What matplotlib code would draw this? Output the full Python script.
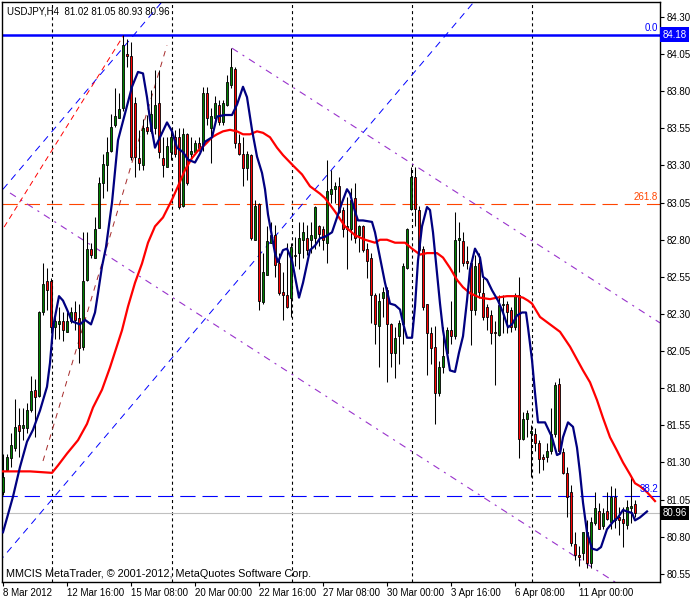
import numpy as np
import matplotlib.pyplot as plt
from matplotlib.transforms import blended_transform_factory

# USDJPY H4 candles
opens = [
    81.10, 81.25, 81.33, 81.40, 81.55, 81.53, 81.53, 81.65, 81.79, 81.75,
    82.31, 82.52, 82.52, 82.21, 82.23, 82.25, 82.18, 82.25, 82.31, 82.27,
    82.08, 82.53, 82.74, 82.68, 82.88, 83.18, 83.30, 83.40, 83.57, 83.62,
    83.69, 84.05, 84.04, 83.72, 83.35, 83.30, 83.56, 83.53, 83.55, 83.72,
    83.35, 83.29, 83.39, 83.49, 83.49, 83.03, 83.51, 83.38, 83.39, 83.45,
    83.44, 83.79, 83.55, 83.62, 83.71, 83.59, 83.71, 83.84, 83.95, 83.45,
    83.38, 83.28, 83.37, 82.80, 83.04, 82.38, 82.56, 82.78, 82.83, 82.64,
    82.45, 82.43, 82.41, 82.69, 82.71, 82.80, 82.81, 82.80, 82.81, 82.89,
    82.87, 82.78, 83.11, 83.14, 83.16, 83.00, 82.87, 82.87, 83.08, 82.83,
    82.89, 82.74, 82.68, 82.43, 82.22, 82.41, 82.46, 82.23, 82.04, 82.15,
    82.23, 82.61, 83.01, 83.22, 83.00, 82.74, 82.37, 82.17, 82.08, 81.77,
    81.94, 82.04, 82.19, 82.15, 82.80, 82.79, 82.66, 82.64, 82.33, 82.64,
    82.44, 82.35, 82.29, 82.18, 82.16, 82.36, 82.37, 82.33, 82.21, 82.43,
    81.46, 81.59, 81.50, 81.49, 81.43, 81.34, 81.34, 81.38, 81.49, 81.83,
    81.37, 81.23, 81.10, 80.75, 80.68, 80.69, 80.83, 80.62, 80.89, 80.97,
    80.87, 80.97, 80.90, 81.07, 80.93, 80.92, 80.88, 80.99, 81.02]
highs = [
    81.36, 81.36, 81.50, 81.73, 81.67, 81.67, 81.70, 81.88, 81.86, 82.32,
    82.64, 82.61, 82.54, 82.31, 82.35, 82.31, 82.31, 82.35, 82.39, 82.37,
    82.85, 82.85, 82.78, 82.95, 83.22, 83.38, 83.49, 83.65, 83.82, 83.79,
    84.18, 84.15, 84.13, 83.76, 83.54, 83.61, 83.64, 83.81, 83.94, 83.94,
    83.49, 83.49, 83.55, 83.54, 83.55, 83.55, 83.52, 83.49, 83.47, 83.49,
    83.83, 83.83, 83.69, 83.77, 83.74, 83.74, 83.91, 84.09, 83.96, 83.51,
    83.49, 83.40, 83.38, 83.07, 83.05, 82.71, 82.89, 82.92, 82.90, 82.71,
    82.58, 82.78, 82.78, 82.82, 82.92, 82.92, 82.90, 82.92, 83.03, 82.90,
    82.89, 83.34, 83.27, 83.19, 83.22, 83.02, 83.09, 83.15, 83.18, 82.90,
    82.90, 82.78, 82.71, 82.44, 82.44, 82.48, 82.48, 82.24, 82.21, 82.26,
    82.64, 82.88, 83.29, 83.29, 83.03, 82.76, 82.37, 82.21, 82.22, 81.98,
    82.21, 82.21, 82.39, 82.99, 82.92, 82.85, 82.76, 82.64, 82.70, 82.71,
    82.54, 82.37, 82.33, 82.25, 82.43, 82.43, 82.39, 82.35, 82.44, 82.55,
    81.64, 81.65, 81.55, 81.53, 81.45, 81.36, 81.43, 81.67, 81.84, 81.87,
    81.40, 81.27, 81.15, 80.83, 80.74, 80.83, 80.91, 80.93, 81.10, 81.03,
    80.99, 81.10, 81.14, 81.13, 81.00, 81.00, 81.05, 81.20, 81.05]
lows = [
    81.08, 81.24, 81.27, 81.38, 81.34, 81.45, 81.50, 81.64, 81.47, 81.74,
    82.29, 82.33, 82.17, 82.13, 82.13, 82.12, 82.18, 82.24, 82.19, 81.97,
    82.06, 82.52, 82.68, 82.68, 82.88, 83.08, 83.13, 83.39, 83.56, 83.62,
    83.67, 83.96, 83.34, 83.22, 83.27, 83.27, 83.51, 83.52, 83.51, 83.35,
    83.22, 83.29, 83.34, 83.36, 83.01, 83.02, 83.17, 83.34, 83.39, 83.40,
    83.40, 83.57, 83.32, 83.59, 83.57, 83.57, 83.70, 83.82, 83.42, 83.37,
    83.16, 83.20, 82.80, 82.80, 82.33, 82.37, 82.56, 82.78, 82.55, 82.43,
    82.26, 82.34, 82.28, 82.62, 82.60, 82.68, 82.70, 82.71, 82.74, 82.76,
    82.73, 82.64, 83.05, 83.05, 82.98, 82.82, 82.60, 82.80, 82.78, 82.72,
    82.72, 82.54, 82.24, 82.10, 81.94, 82.28, 81.84, 81.94, 81.87, 81.96,
    82.10, 82.60, 83.00, 82.89, 82.71, 82.33, 81.89, 81.96, 81.56, 81.75,
    81.90, 82.04, 82.10, 82.13, 82.58, 82.62, 82.60, 82.09, 82.29, 82.41,
    82.26, 82.19, 82.10, 81.82, 82.15, 82.17, 82.17, 82.18, 82.19, 81.33,
    81.45, 81.47, 81.20, 81.38, 81.23, 81.25, 81.30, 81.36, 81.47, 81.37,
    81.22, 80.93, 80.74, 80.64, 80.60, 80.64, 80.59, 80.59, 80.88, 80.85,
    80.85, 80.91, 80.85, 80.86, 80.81, 80.73, 80.85, 80.89, 80.93]
closes = [
    81.20, 81.34, 81.42, 81.54, 81.51, 81.55, 81.65, 81.78, 81.74, 82.31,
    82.50, 82.46, 82.21, 82.25, 82.25, 82.19, 82.25, 82.31, 82.26, 82.07,
    82.52, 82.74, 82.70, 82.87, 83.18, 83.31, 83.39, 83.56, 83.63, 83.68,
    84.11, 84.04, 83.36, 83.36, 83.32, 83.55, 83.53, 83.65, 83.71, 83.39,
    83.30, 83.43, 83.49, 83.38, 83.02, 83.51, 83.18, 83.40, 83.45, 83.42,
    83.79, 83.62, 83.63, 83.72, 83.59, 83.72, 83.86, 83.96, 83.45, 83.38,
    83.28, 83.38, 82.81, 83.03, 82.39, 82.58, 82.79, 82.83, 82.63, 82.44,
    82.43, 82.35, 82.75, 82.70, 82.81, 82.85, 82.73, 82.83, 83.02, 82.84,
    82.80, 83.13, 83.14, 83.16, 82.99, 82.87, 82.89, 83.07, 82.81, 82.89,
    82.73, 82.66, 82.43, 82.23, 82.39, 82.45, 82.23, 82.04, 82.14, 82.24,
    82.62, 82.87, 83.22, 83.01, 82.73, 82.35, 82.17, 82.07, 81.77, 81.94,
    82.02, 82.19, 82.15, 82.80, 82.81, 82.64, 82.64, 82.33, 82.62, 82.45,
    82.28, 82.28, 82.17, 82.17, 82.36, 82.37, 82.31, 82.21, 82.43, 81.46,
    81.59, 81.63, 81.51, 81.43, 81.32, 81.32, 81.38, 81.49, 81.82, 81.38,
    81.23, 81.07, 80.76, 80.68, 80.66, 80.83, 80.62, 80.90, 80.99, 80.85,
    80.96, 80.92, 81.07, 80.91, 80.91, 80.89, 81.00, 81.01, 80.96]

# fast MA (navy), x in bars
fast_x = [0, 2.5, 4.25, 6, 7.5, 9.25, 11, 11.75, 12.5, 13.5,
          14, 15, 16, 17.25, 19.25, 20.5, 22, 23, 23.75, 24.75,
          25.75, 27.25, 28.75, 30.5, 32.25, 33.75, 35, 36, 36.75, 38,
          39.25, 41, 42.25, 43.5, 45, 46.25, 48, 49.25, 50.5, 52.25,
          53.5, 55.5, 57.25, 58.5, 60, 61, 62.25, 63.5, 64.75, 65.5,
          66.25, 67.25, 68, 68.75, 70, 71, 72.25, 73.5, 74, 75,
          76.75, 78, 79.25, 80.5, 82.25, 83.5, 84.75, 86, 86.75, 88,
          88.75, 90, 92.25, 93, 94.25, 95.5, 96.75, 98, 99.25, 100,
          101, 102.25, 103, 103.75, 104.75, 106, 106.75, 107.5, 108.5, 109.25,
          110, 111, 111.75, 113, 114, 115, 116, 116.75, 118, 119.25,
          120, 121, 122.25, 123.75, 125, 126.25, 127.25, 128.5, 129.75, 130.75,
          131.25, 132.25, 133, 133.75, 135.5, 137.25, 138.5, 139.25, 140, 141.25,
          142.5, 143.5, 144.25, 145, 146, 147.25, 148.5, 149.5, 151, 152.5,
          153.75, 155, 156, 157.25, 158, 159.25, 161]
fast_y = [80.83, 81.07, 81.27, 81.44, 81.52, 81.65, 81.81, 81.97, 82.21, 82.35,
          82.42, 82.39, 82.33, 82.25, 82.23, 82.26, 82.23, 82.31, 82.44, 82.62,
          82.75, 83.05, 83.47, 83.65, 83.83, 83.93, 83.92, 83.76, 83.61, 83.42,
          83.49, 83.59, 83.53, 83.42, 83.39, 83.34, 83.32, 83.38, 83.46, 83.49,
          83.63, 83.64, 83.64, 83.71, 83.83, 83.76, 83.54, 83.36, 83.25, 83.14,
          82.97, 82.82, 82.71, 82.65, 82.73, 82.74, 82.66, 82.48, 82.41, 82.51,
          82.73, 82.76, 82.81, 82.82, 82.85, 82.95, 83.05, 83.14, 83.11, 82.99,
          82.93, 82.93, 82.92, 82.85, 82.68, 82.51, 82.37, 82.36, 82.33, 82.24,
          82.14, 82.14, 82.35, 82.66, 82.89, 83.02, 83.00, 82.85, 82.58, 82.37,
          82.19, 82.04, 81.92, 81.91, 82.04, 82.15, 82.39, 82.60, 82.74, 82.68,
          82.55, 82.53, 82.46, 82.39, 82.31, 82.21, 82.23, 82.29, 82.31, 82.31,
          82.21, 81.99, 81.77, 81.57, 81.57, 81.47, 81.35, 81.36, 81.47, 81.57,
          81.54, 81.40, 81.23, 81.03, 80.83, 80.72, 80.71, 80.73, 80.85, 80.90,
          80.93, 80.98, 80.97, 80.96, 80.91, 80.93, 80.97]

# slow MA (red)
slow_x = [0, 6.75, 12.25, 13.75, 16, 18.75, 21, 22.5, 24.75, 26.75,
          29.75, 31.25, 33, 34.75, 36.25, 38, 40, 42.25, 43.75, 45.5,
          47.25, 48.75, 50.5, 52.25, 53.5, 55, 56.75, 58.5, 60, 61.75,
          63.5, 65, 66.75, 68.5, 70, 72.5, 74.75, 76.75, 79.25, 80.5,
          83, 85.5, 88, 90.5, 93, 94.25, 96, 98, 100.5, 102.25,
          104.25, 106, 108.5, 110, 111.75, 113.5, 115, 116.75, 119.25, 121.75,
          123.5, 126, 128.5, 130, 131.25, 132.25, 134.25, 136.75, 139.25, 141.75,
          145, 146.75, 148.5, 150, 151.75, 153.5, 155, 156.75, 158, 159.25, 161, 163]
slow_y = [81.24, 81.24, 81.23, 81.28, 81.36, 81.45, 81.56, 81.67, 81.79, 81.94,
          82.19, 82.35, 82.51, 82.64, 82.78, 82.89, 82.95, 83.07, 83.16, 83.27,
          83.35, 83.40, 83.44, 83.49, 83.51, 83.53, 83.54, 83.53, 83.51, 83.51,
          83.53, 83.52, 83.49, 83.42, 83.37, 83.30, 83.24, 83.16, 83.11, 83.08,
          82.99, 82.89, 82.83, 82.80, 82.78, 82.80, 82.80, 82.78, 82.78, 82.74,
          82.70, 82.71, 82.71, 82.68, 82.61, 82.53, 82.48, 82.44, 82.41, 82.40,
          82.41, 82.42, 82.42, 82.41, 82.39, 82.37, 82.28, 82.23, 82.18, 82.08,
          81.92, 81.84, 81.72, 81.60, 81.47, 81.38, 81.30, 81.22, 81.16, 81.14, 81.10, 81.04]

# drawn objects: (bar0, price0, bar1, price1)
channel_blue = [(-1, 80.63, 118, 84.41), (0, 83.14, 40, 84.41)]
channel_purple = [(57.25, 84.09, 164.25, 82.24), (1.75, 83.115, 164.25, 80.30)]
ray_red = (-1, 82.83, 30, 84.17)
ray_brown = (10, 81.31, 41, 84.11)

fib_levels = [84.18, 83.04, 81.075]
fib_names = ['0.0', '261.8', '38.2']
bid = 80.96

date_pos = [0, 16, 32, 48, 64, 80, 96, 112, 128, 144]
date_labels = ['8 Mar 2012', '12 Mar 16:00', '15 Mar 08:00', '20 Mar 00:00',
               '22 Mar 16:00', '27 Mar 08:00', '30 Mar 00:00', '3 Apr 16:00',
               '6 Apr 08:00', '11 Apr 00:00']
vgrid = [12.25, 42.25, 72.25, 102.25, 132.25]
price_ticks = [80.55 + 0.25 * k for k in range(16)]

plt.rcParams['font.family'] = ['Liberation Sans', 'DejaVu Sans']
plt.rcParams['lines.scale_dashes'] = False
FS = 7

fig = plt.figure(figsize=(7, 6), dpi=100, facecolor='white')
ax = fig.add_axes([2/700, 18/600, 658/700, 580/600])
ax.set_xlim(-0.25, 164.25)
ax.set_ylim(80.495, 84.401)
trans = blended_transform_factory(ax.transAxes, ax.transData)

for x in vgrid:
    ax.axvline(x, color='black', lw=0.8, ls=(0, (2.2, 2.2)), zorder=1)

# fibo levels
ax.axhline(fib_levels[0], color='#0000FF', lw=1.8, zorder=2)
ax.axhline(fib_levels[1], color='#FF4500', lw=0.8, ls=(0, (11, 5)), zorder=2)
ax.axhline(fib_levels[2], color='#0000FF', lw=0.8, ls=(0, (11, 5)), zorder=2)
ax.axhline(bid, color='#C0C0C0', lw=0.8, zorder=2)
for lev, name, col in zip(fib_levels, fib_names, ['#0000FF', '#FF4500', '#0000FF']):
    ax.text(0.997, lev + 0.012, name, color=col, fontsize=FS, ha='right', va='bottom',
            transform=trans, zorder=6)

# trend lines
for x0, y0, x1, y1 in channel_blue:
    ax.plot([x0, x1], [y0, y1], color='#0000FF', lw=0.7, ls=(0, (5, 4)), zorder=2)
for x0, y0, x1, y1 in channel_purple:
    ax.plot([x0, x1], [y0, y1], color='#9932CC', lw=0.8, ls=(0, (5, 4, 1.5, 4)), zorder=2)
ax.plot(ray_red[::2], ray_red[1::2], color='#FF0000', lw=0.7, ls=(0, (4, 3)), zorder=2)
ax.plot(ray_brown[::2], ray_brown[1::2], color='#A52A2A', lw=0.7, ls=(0, (4, 4)), zorder=2)

# candles
o = np.array(opens); h = np.array(highs); l = np.array(lows); c = np.array(closes)
idx = np.arange(len(o))
up = c >= o
bottom = np.minimum(o, c)
height = np.maximum(np.abs(c - o), 0.006)
ax.vlines(idx, l, h, color='black', lw=0.75, zorder=3)
ax.bar(idx[up], height[up], bottom=bottom[up], width=0.66, color='#008000',
       edgecolor='black', linewidth=0.6, zorder=4)
ax.bar(idx[~up], height[~up], bottom=bottom[~up], width=0.66, color='#FF0000',
       edgecolor='black', linewidth=0.6, zorder=4)

# moving averages
ax.plot(slow_x, slow_y, color='#FF0000', lw=1.6, zorder=5)
ax.plot(fast_x, fast_y, color='#000080', lw=1.6, zorder=5)

# axes
ax.yaxis.tick_right()
ax.set_yticks(price_ticks, ['%.2f' % p for p in price_ticks])
ax.set_xticks(date_pos, date_labels)
for t in ax.get_xticklabels():
    t.set_ha('left')
ax.tick_params(axis='y', direction='out', length=3, width=0.8, pad=2, labelsize=FS)
ax.tick_params(axis='x', direction='out', length=3, width=0.8, pad=1, labelsize=FS)
for s in ax.spines.values():
    s.set_color('black')
    s.set_linewidth(1)

# price tags on the scale
ax.text(1.004, fib_levels[0], '%.2f' % fib_levels[0], color='white', fontsize=FS,
        ha='left', va='center', transform=trans, clip_on=False,
        bbox=dict(boxstyle='square,pad=0.25', fc='#0000FF', ec='none'))
ax.text(1.004, bid, '%.2f' % bid, color='white', fontsize=FS,
        ha='left', va='center', transform=trans, clip_on=False,
        bbox=dict(boxstyle='square,pad=0.25', fc='black', ec='none'))

ax.text(0.008, 0.984, 'USDJPY,H4  %.2f %.2f %.2f %.2f' % (o[-1], h[-1], l[-1], c[-1]),
        fontsize=FS, ha='left', va='center', transform=ax.transAxes, zorder=7)
ax.text(0.006, 0.005, 'MMCIS MetaTrader, \u00a9 2001-2012, MetaQuotes Software Corp.',
        fontsize=7.8, ha='left', va='bottom', transform=ax.transAxes, zorder=7)

fig.savefig('out.png', dpi=100, facecolor='white')
